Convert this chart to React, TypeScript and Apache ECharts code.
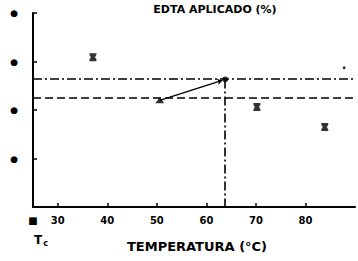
import React, { useEffect, useRef } from "react";
import * as echarts from "echarts";

const xTickValues = [30, 40, 50, 60, 70, 80];
const xTickLabels = ["30", "40", "50", "60", "70", "80"];
const yDotLevels = [1, 2, 3, 4];

const crossX = [37.1, 70.2, 83.9];
const crossY = [3.09, 2.06, 1.65];
const triangleX = [50.6];
const triangleY = [2.2];
const circleX = [63.8];
const circleY = [2.63];
const dotX = [87.8];
const dotY = [2.87];
const dashDotLevel = 2.64;
const dashedLevel = 2.25;

const FONT = "DejaVu Sans";
const crossPath = "path://M0,0 L10,0 L10,2 L8,5 L10,8 L10,10 L0,10 L0,8 L2,5 L0,2 Z";

export default function App() {
  const ref = useRef<HTMLDivElement>(null);
  useEffect(() => {
    if (!ref.current) return;
    const chart = echarts.init(ref.current, null, { renderer: "svg" });
    const zip = (xs: number[], ys: number[]) => xs.map((x, i) => [x, ys[i]]);
    chart.setOption({
      animation: false,
      backgroundColor: "#ffffff",
      title: {
        text: "EDTA APLICADO (%)",
        left: 210,
        textAlign: "center",
        top: -1,
        textStyle: { fontFamily: FONT, fontSize: 11, fontWeight: "bold", color: "#000" },
      },
      grid: { left: 33, right: 3, top: 13, bottom: 54 },
      xAxis: {
        type: "value",
        min: 25,
        max: 90,
        interval: 5,
        name: "TEMPERATURA (°C)",
        nameLocation: "middle",
        nameGap: 33,
        nameTextStyle: { fontFamily: FONT, fontSize: 13, fontWeight: "bold", color: "#000", padding: [0, 0, 0, 6] },
        axisLine: { lineStyle: { color: "#000", width: 2 } },
        axisTick: {
          show: true,
          inside: true,
          length: 4,
          customValues: xTickValues,
          lineStyle: { color: "#000", width: 1.5 },
        },
        axisLabel: {
          margin: 8,
          customValues: [25, ...xTickValues],
          formatter: (v: number) => {
            if (v === 25) return "■";
            const i = xTickValues.indexOf(v);
            return i >= 0 ? xTickLabels[i] : "";
          },
          fontFamily: FONT,
          fontSize: 10,
          fontWeight: "bold",
          color: "#000",
        },
        splitLine: { show: false },
      },
      yAxis: {
        type: "value",
        min: 0,
        max: 4,
        interval: 1,
        axisLine: { show: true, lineStyle: { color: "#000", width: 2 } },
        axisTick: { show: true, inside: true, length: 4, lineStyle: { color: "#000", width: 1.5 } },
        axisLabel: {
          margin: 15,
          formatter: (v: number) => (yDotLevels.indexOf(v) >= 0 ? "●" : ""),
          fontFamily: FONT,
          fontSize: 9,
          color: "#000",
        },
        splitLine: { show: false },
      },
      graphic: [
        {
          type: "text",
          left: 34,
          top: 234,
          style: {
            text: "{a|T}{b|c}",
            rich: {
              a: { fontFamily: FONT, fontSize: 12, fontWeight: "bold", fill: "#000" },
              b: { fontFamily: FONT, fontSize: 8, fontWeight: "bold", fill: "#000", padding: [7, 0, 0, 1] },
            },
          },
        },
      ],
      series: [
        {
          type: "scatter",
          data: zip(crossX, crossY),
          symbol: crossPath,
          symbolSize: [7, 8],
          itemStyle: { color: "#000" },
          markLine: {
            silent: true,
            symbol: ["none", "none"],
            label: { show: false },
            data: [
              { yAxis: dashDotLevel, lineStyle: { type: [9, 3, 2, 3], color: "#000", width: 1.6 } },
              { yAxis: dashedLevel, lineStyle: { type: [8, 4], color: "#000", width: 1.6 } },
              [
                { coord: [circleX[0], circleY[0]], lineStyle: { type: [9, 3, 2, 3], color: "#000", width: 1.6 } },
                { coord: [circleX[0], 0] },
              ],
            ],
          },
        },
        {
          type: "scatter",
          data: zip(triangleX, triangleY),
          symbol: "triangle",
          symbolSize: [9, 6],
          itemStyle: { color: "#000" },
          markLine: {
            silent: true,
            symbol: ["none", "arrow"],
            symbolSize: 5,
            label: { show: false },
            lineStyle: { type: "solid", color: "#000", width: 1.4 },
            data: [[{ coord: [triangleX[0], triangleY[0]] }, { coord: [circleX[0] - 0.6, circleY[0] - 0.02] }]],
          },
        },
        {
          type: "scatter",
          data: zip(circleX, circleY),
          symbol: "circle",
          symbolSize: 6,
          itemStyle: { color: "#000" },
        },
        {
          type: "scatter",
          data: zip(dotX, dotY),
          symbol: "circle",
          symbolSize: 3,
          itemStyle: { color: "#000" },
        },
      ],
    });
    return () => chart.dispose();
  }, []);
  return <div ref={ref} style={{ width: 358, height: 261, position: "absolute", left: 0, top: 0 }} />;
}
